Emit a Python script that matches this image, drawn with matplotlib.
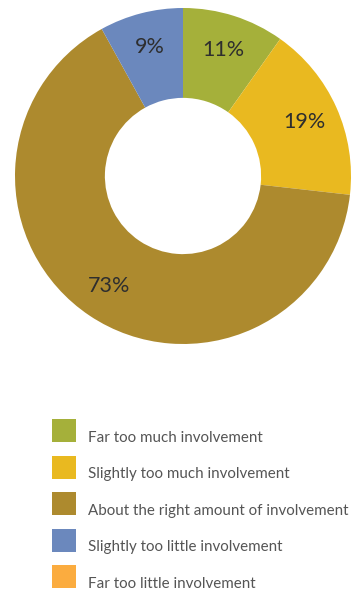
import matplotlib
matplotlib.use("Agg")
import matplotlib.pyplot as plt
from matplotlib.patches import Rectangle
import numpy as np

categories = [
    "Far too much involvement",
    "Slightly too much involvement",
    "About the right amount of involvement",
    "Slightly too little involvement",
    "Far too little involvement",
]
values = [11, 19, 73, 9, 0]
colors = ["#A5B03A", "#E9B920", "#AD8A2E", "#6B88BD", "#FBAC3F"]

W, H = 362, 592
fig = plt.figure(figsize=(W / 100, H / 100), dpi=100)
plt.rcParams["font.family"] = ["Lato", "DejaVu Sans"]

# donut axes: centre (183, 176) px, outer radius 168 px
cx, cy, R = 183, 176, 168
ax = fig.add_axes([(cx - R) / W, 1 - (cy + R) / H, 2 * R / W, 2 * R / H])
wedges, _ = ax.pie(
    values, colors=colors, startangle=90, counterclock=False, radius=1,
    wedgeprops=dict(width=0.535, edgecolor="none"),
)
total = sum(values)
angle = 90.0
for v in values:
    if v <= 0:
        continue
    span = 360.0 * v / total
    mid = np.deg2rad(angle - span / 2)
    r = 0.79
    ax.text(r * np.cos(mid), r * np.sin(mid), f"{v}%", ha="center", va="center",
            fontsize=15.5, color="#2e2e2e")
    angle -= span
ax.set_xlim(-1, 1)
ax.set_ylim(-1, 1)
ax.set_aspect("equal")
ax.axis("off")

# legend drawn in pixel coordinates
lax = fig.add_axes([0, 0, 1, 1])
lax.set_xlim(0, W)
lax.set_ylim(H, 0)
lax.axis("off")
y0, step = 419, 36.6
for i, (lab, col) in enumerate(zip(categories, colors)):
    y = y0 + i * step
    lax.add_patch(Rectangle((52, y), 24, 23, facecolor=col, edgecolor="none"))
    lax.text(88.5, y + 22.5, lab, ha="left", va="baseline", fontsize=10.9, color="#555555")

fig.savefig("out.png", dpi=100)
